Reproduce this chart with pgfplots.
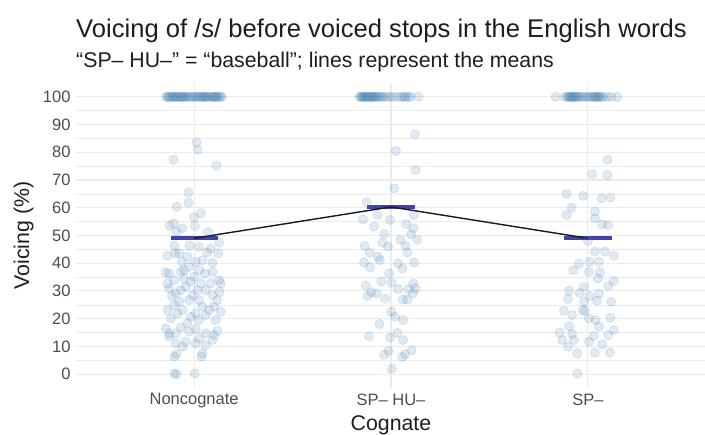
\documentclass[border=0pt]{standalone}
\usepackage{pgfplots}
\usepackage{pgfplotstable}
\usepackage{fontspec}
\pgfplotsset{compat=1.18}
\setmainfont{Liberation Sans}

\definecolor{steelblue}{RGB}{70,130,180}
\definecolor{gridgray}{RGB}{235,235,235}
\definecolor{tickgray}{RGB}{77,77,77}
\definecolor{meanblue}{RGB}{66,66,168}
\definecolor{titlegray}{RGB}{30,30,30}

% jitter offset d (in category units) and voicing v, one table per group
\pgfplotstableread{
d v
0.012 83.6
0.018 80.9
-0.105 77.3
0.113 75.2
-0.029 65.5
-0.029 61.8
-0.088 60.4
0.035 58.0
0.000 56.6
0.004 53.5
-0.124 53.5
-0.103 54.4
-0.061 52.6
-0.090 51.4
0.071 51.2
0.127 47.4
-0.100 46.3
-0.024 46.3
-0.135 42.7
-0.096 43.6
0.067 43.9
0.122 43.6
-0.063 40.5
0.008 40.5
0.093 40.2
-0.144 36.7
-0.068 36.9
0.025 37.5
0.055 36.3
0.093 36.9
-0.025 38.7
0.127 33.9
-0.102 33.9
-0.017 33.3
0.034 32.7
-0.127 30.9
-0.068 30.3
0.059 30.3
0.129 29.7
-0.113 28.2
-0.008 28.5
0.025 26.7
0.093 28.5
-0.076 26.1
-0.025 26.7
-0.135 23.1
-0.059 23.1
0.008 21.9
0.076 23.1
0.135 22.5
-0.118 20.1
-0.034 18.3
0.025 19.5
0.110 19.5
-0.144 16.5
-0.093 14.7
-0.025 15.3
0.059 14.7
0.101 14.1
-0.093 11.1
-0.042 11.7
0.008 11.1
0.059 10.5
-0.101 6.3
0.037 6.3
-0.090 7.2
0.042 7.5
-0.101 0.2
-0.090 0.0
0.003 0.2
-0.127 36.3
-0.051 34.5
0.084 32.7
-0.093 29.1
-0.042 31.5
0.017 30.3
0.118 26.7
-0.101 24.9
0.042 24.3
0.101 24.3
-0.085 21.9
-0.017 20.7
0.059 21.3
-0.068 16.8
0.008 16.2
0.118 15.6
-0.127 13.5
0.025 12.9
0.093 12.3
-0.059 9.9
-0.127 14.7
-0.034 42.3
0.042 41.1
0.084 45.3
0.025 45.9
-0.076 43.6
-0.051 37.5
0.000 35.1
-0.135 32.7
0.135 32.7
-0.142 100
-0.136 100
-0.130 100
-0.124 100
-0.118 100
-0.112 100
-0.105 100
-0.100 100
-0.095 100
-0.090 100
-0.085 100
-0.078 100
-0.070 100
-0.065 100
-0.060 100
-0.055 100
-0.050 100
-0.045 100
-0.040 100
-0.030 100
-0.020 100
-0.012 100
-0.005 100
0.004 100
0.010 100
0.018 100
0.025 100
0.032 100
0.040 100
0.045 100
0.050 100
0.055 100
0.060 100
0.065 100
0.070 100
0.080 100
0.090 100
0.095 100
0.100 100
0.105 100
0.110 100
0.115 100
0.120 100
0.128 100
0.135 100
0.142 100
}\noncognate

\pgfplotstableread{
d v
0.122 86.5
0.025 80.5
0.125 73.6
0.017 67.0
-0.124 62.0
-0.142 55.8
-0.069 57.4
-0.005 55.6
0.117 57.4
-0.086 53.2
0.078 54.1
0.113 52.6
-0.034 50.5
0.102 50.4
0.134 48.4
-0.044 47.4
0.049 48.4
-0.134 46.2
-0.015 46.0
0.074 46.3
-0.108 43.8
-0.066 42.3
0.083 43.9
-0.057 41.1
-0.137 40.3
-0.107 38.5
0.036 39.9
0.058 38.1
0.117 40.3
-0.010 36.3
-0.049 33.4
0.003 33.1
-0.128 31.9
0.113 32.6
0.125 30.9
-0.101 29.5
-0.074 29.1
0.036 30.7
0.089 30.6
-0.120 28.2
-0.030 27.2
0.061 26.9
0.083 26.9
0.112 29.1
0.001 22.5
0.020 20.7
0.061 19.5
-0.059 18.1
-0.112 13.7
-0.005 13.2
0.032 14.9
0.061 12.3
-0.013 8.4
-0.034 7.0
0.058 6.2
0.071 7.2
0.105 8.6
0.004 1.9
-0.160 100
-0.154 100
-0.150 100
-0.145 100
-0.140 100
-0.135 100
-0.130 100
-0.125 100
-0.120 100
-0.115 100
-0.110 100
-0.105 100
-0.100 100
-0.095 100
-0.090 100
-0.085 100
-0.080 100
-0.075 100
-0.070 100
-0.060 100
-0.050 100
-0.042 100
-0.035 100
-0.020 100
-0.005 100
0.010 100
0.030 100
0.050 100
0.060 100
0.070 100
0.075 100
0.090 100
0.100 100
0.140 100
}\sphu

\pgfplotstableread{
d v
0.100 77.3
0.022 72.2
0.099 71.8
-0.108 65.0
-0.023 64.3
0.069 63.4
0.115 63.7
-0.083 60.0
-0.108 57.4
0.036 58.6
0.036 56.2
0.073 54.1
0.103 53.7
0.000 48.0
0.036 44.2
0.086 44.2
0.132 42.7
0.008 40.5
-0.046 39.9
0.056 40.5
-0.074 37.5
0.005 36.9
0.061 36.7
0.051 34.5
0.132 33.6
-0.020 31.5
0.103 31.8
-0.096 30.1
0.056 29.1
-0.042 29.3
-0.101 27.1
0.046 26.5
0.118 26.1
-0.020 26.1
-0.122 22.9
-0.080 21.3
-0.015 22.9
0.005 20.1
0.039 19.5
0.114 20.4
-0.096 17.3
-0.144 15.0
-0.080 14.5
0.056 17.1
0.132 15.9
0.103 14.1
-0.130 12.3
-0.100 9.9
-0.054 7.5
0.005 11.7
0.030 13.8
0.073 10.7
0.036 7.7
0.112 7.8
-0.054 0.2
-0.071 12.3
-0.028 23.1
0.008 28.2
-0.164 100
-0.120 100
-0.105 100
-0.100 100
-0.095 100
-0.090 100
-0.085 100
-0.080 100
-0.075 100
-0.070 100
-0.065 100
-0.060 100
-0.055 100
-0.050 100
-0.040 100
-0.030 100
-0.020 100
-0.010 100
0.000 100
0.010 100
0.020 100
0.028 100
0.035 100
0.040 100
0.045 100
0.050 100
0.055 100
0.060 100
0.070 100
0.080 100
0.100 100
0.120 100
0.149 100
}\sponly

\begin{document}
\begin{tikzpicture}
\useasboundingbox (0,0) rectangle (705pt,435pt);
\begin{axis}[
  at={(76pt,47pt)}, anchor=south west,
  scale only axis, width=630pt, height=305pt,
  xmin=-0.6, xmax=2.6, ymin=-5, ymax=105,
  axis line style={draw=none},
  tick style={draw=none},
  xtick={0,1,2},
  xticklabels={Noncognate, SP– HU–, SP–},
  ytick={0,10,...,100},
  minor ytick={5,15,...,95},
  xmajorgrids, ymajorgrids, yminorgrids,
  major grid style={gridgray, line width=1.1pt},
  minor grid style={gridgray, line width=0.6pt},
  /pgf/number format/assume math mode=true,
  ticklabel style={font=\fontsize{16.5}{20}\selectfont, text=tickgray},
  yticklabel style={xshift=-2pt},
  xticklabel style={yshift=-2pt},
  clip=false,
]
\pgfplotsset{
  jit/.style={only marks, mark=*, mark size=4.6pt,
    mark options={fill=steelblue, fill opacity=0.17,
      draw=steelblue, draw opacity=0.17, line width=0.8pt}},
}
\addplot[jit] table[x expr=0+\thisrow{d}, y=v] {\noncognate};
\addplot[jit] table[x expr=1+\thisrow{d}, y=v] {\sphu};
\addplot[jit] table[x expr=2+\thisrow{d}, y=v] {\sponly};

% group means
\addplot[meanblue, line width=3.6pt] coordinates {(-0.12,49.0) (0.12,49.0)};
\addplot[meanblue, line width=3.6pt] coordinates {(0.88,60.3) (1.12,60.3)};
\addplot[meanblue, line width=3.6pt] coordinates {(1.88,49.0) (2.12,49.0)};
\addplot[black!90, line width=1.4pt] coordinates {(0,49.0) (1,60.3) (2,49.0)};
\end{axis}

\node[anchor=base west, inner sep=0, text=titlegray]
  at (76pt,397pt) {\fontsize{25.6}{30}\selectfont Voicing of /s/ before voiced stops in the English words};
\node[anchor=base west, inner sep=0, text=titlegray]
  at (76pt,367pt) {\fontsize{21.3}{25}\selectfont “SP– HU–” = “baseball”; lines represent the means};
\node[anchor=base, inner sep=0, text=titlegray]
  at (391pt,4pt) {\fontsize{21.3}{25}\selectfont Cognate};
\node[anchor=base, inner sep=0, rotate=90, text=titlegray]
  at (29pt,199.5pt) {\fontsize{21.3}{25}\selectfont Voicing (\%)};
\end{tikzpicture}
\end{document}
